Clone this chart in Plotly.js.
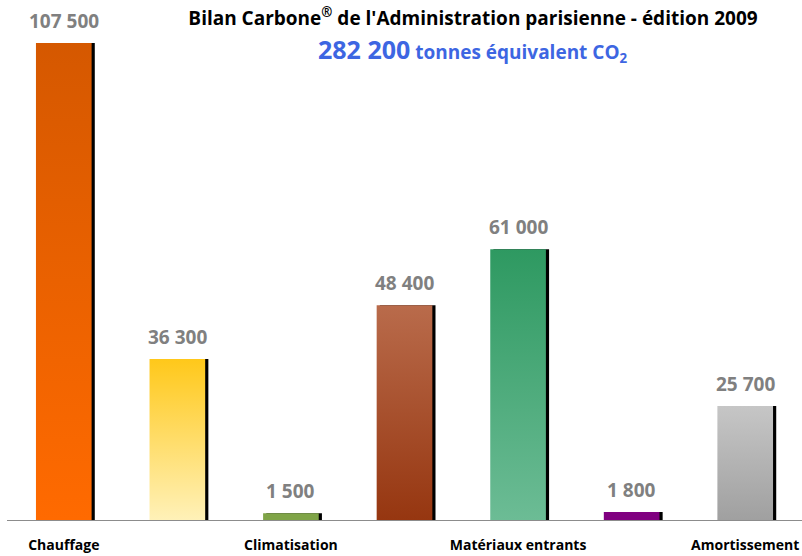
<!DOCTYPE html>
<html>
<head>
<meta charset="utf-8">
<script src="https://cdn.plot.ly/plotly-3.0.1.min.js"></script>
<style>html,body{margin:0;padding:0;background:#fff;}#chart{width:802px;height:556px;}</style>
</head>
<body>
<div id="chart"></div>
<script>
// Data
const positions = [0, 1, 2, 3, 4, 5, 6];
const values = [107500, 36300, 1500, 48400, 61000, 1800, 25700];
const valueLabels = ["107 500", "36 300", "1 500", "48 400", "61 000", "1 800", "25 700"];
const tickPositions = [0, 2, 4, 6];
const tickLabels = ["Chauffage", "Climatisation", "Matériaux entrants", "Amortissement"];
const barColors = ["#EC6200", "#FFDC6E", "#7FA447", "#A8512E", "#4FAB7B", "#800080", "#B3B3B3"];
const gradTop = ["#D55800", "#FFC81A", "#7FA447", "#B96B4B", "#2E9961", "#800080", "#C6C6C6"];
const gradBottom = ["#FF6A00", "#FFF1B8", "#7FA447", "#963610", "#6CBC95", "#800080", "#A0A0A0"];
const titleText = "Bilan Carbone<sup>®</sup> de l'Administration parisienne - édition 2009";
const totalText = "282 200";
const unitText = "tonnes équivalent CO<sub>2</sub>";

const FONT = "Open Sans, Noto Sans, sans-serif";

const shadow = {
  type: "bar", x: positions, y: values,
  width: 0.49, offset: -0.245 + 0.028,
  marker: {color: "#000000", line: {width: 0}},
  hoverinfo: "skip", showlegend: false
};
const bars = {
  type: "bar", x: positions, y: values,
  width: 0.49, offset: -0.245,
  marker: {color: barColors, line: {width: 0}},
  showlegend: false
};

const annotations = positions.map((p, i) => ({
  x: p, y: values[i], xref: "x", yref: "y",
  text: "<b>" + valueLabels[i] + "</b>", showarrow: false,
  yanchor: "bottom", yshift: 7,
  font: {family: FONT, size: 19, color: "#808080"}
}));
annotations.push({
  x: (473 - 7) / 795, xref: "paper", y: 1 - 50 / 520, yref: "paper",
  text: "<b><span style='font-size:25px'>" + totalText + "</span> " + unitText + "</b>",
  showarrow: false, xanchor: "center", yanchor: "middle",
  font: {family: FONT, size: 19, color: "#3D66E2"}
});

const layout = {
  width: 802, height: 556,
  margin: {l: 7, r: 0, t: 0, b: 36},
  paper_bgcolor: "#ffffff", plot_bgcolor: "#ffffff",
  barmode: "overlay",
  title: {text: "<b>" + titleText + "</b>", x: 473 / 802, xanchor: "center", y: 1 - 18 / 556, yanchor: "middle",
          font: {family: FONT, size: 19, color: "#000000"}},
  xaxis: {range: [-0.5, 6.5], tickvals: tickPositions, ticktext: tickLabels.map(t => "<b>" + t + "</b>"),
          showgrid: false, zeroline: false, showline: true, linecolor: "#8C8C8C", linewidth: 1,
          ticks: "", ticklabelstandoff: 12, tickfont: {family: FONT, size: 14, color: "#000000"}, fixedrange: true},
  yaxis: {range: [0, 117200], visible: false, showgrid: false, zeroline: false, fixedrange: true},
  annotations: annotations,
  font: {family: FONT}
};

Plotly.newPlot("chart", [shadow, bars], layout, {displayModeBar: false, staticPlot: true}).then(() => {
  const svg = document.querySelector("#chart .main-svg");
  const ns = "http://www.w3.org/2000/svg";
  const defs = document.createElementNS(ns, "defs");
  gradTop.forEach((c, i) => {
    const g = document.createElementNS(ns, "linearGradient");
    g.setAttribute("id", "barGrad" + i);
    g.setAttribute("x1", "0"); g.setAttribute("y1", "0");
    g.setAttribute("x2", "0"); g.setAttribute("y2", "1");
    const s1 = document.createElementNS(ns, "stop");
    s1.setAttribute("offset", "0"); s1.setAttribute("stop-color", c);
    const s2 = document.createElementNS(ns, "stop");
    s2.setAttribute("offset", "1"); s2.setAttribute("stop-color", gradBottom[i]);
    g.appendChild(s1); g.appendChild(s2); defs.appendChild(g);
  });
  svg.insertBefore(defs, svg.firstChild);
  const traces = document.querySelectorAll("#chart .barlayer .trace");
  const mainTrace = traces[traces.length - 1];
  mainTrace.querySelectorAll(".point path").forEach((p, i) => {
    p.style.fill = "url(#barGrad" + i + ")";
  });
});
</script>
</body>
</html>
